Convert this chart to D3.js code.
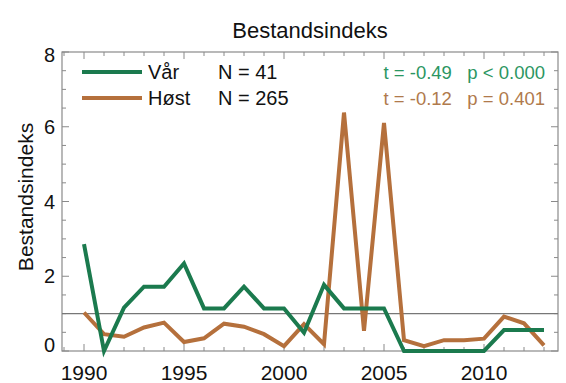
<!DOCTYPE html>
<html>
<head>
<meta charset="utf-8">
<script src="https://cdn.jsdelivr.net/npm/d3@7"></script>
<style>
  body { margin: 0; background: #fff; }
  text { font-family: "Liberation Sans", Arial, sans-serif; }
</style>
</head>
<body>
<svg width="566" height="383"></svg>
<script>
//  data
var years = d3.range(1990, 2014);
var varValues = [2.86, 0.0, 1.16, 1.72, 1.72, 2.34, 1.14, 1.14, 1.72, 1.14, 1.14, 0.49,
                 1.77, 1.14, 1.14, 1.14, 0.0, 0.0, 0.0, 0.0, 0.0, 0.56, 0.56, 0.56];
var hostValues = [1.03, 0.45, 0.38, 0.63, 0.76, 0.24, 0.34, 0.73, 0.65, 0.45, 0.13, 0.72,
                  0.18, 6.38, 0.54, 6.1, 0.29, 0.13, 0.29, 0.29, 0.33, 0.92, 0.74, 0.15];
var yTicks = [0, 2, 4, 6, 8];
var xTicks = [1990, 1995, 2000, 2005, 2010];
var seriesNames = ["Vår", "Høst"];
var seriesN = ["N = 41", "N = 265"];
var seriesStats = ["t = -0.49   p < 0.000", "t = -0.12   p = 0.401"];
var lineColors = ["#1b7a4e", "#b5703c"];
var statColors = ["#2b9662", "#b07a4c"];

//  svg & sizing
var svg = d3.select("svg");
var plotLeft = 62, plotRight = 558, plotTop = 52, plotBottom = 351;

var x = d3.scaleLinear().domain([1988.9, 2013.7]).range([plotLeft, plotRight]);
var y = d3.scaleLinear().domain([0, 8]).range([plotBottom, plotTop]);

var axisColor = "#8a8a8a";

//  frame
svg.append("rect")
  .attr("x", plotLeft).attr("y", plotTop)
  .attr("width", plotRight - plotLeft).attr("height", plotBottom - plotTop)
  .attr("fill", "none").attr("stroke", axisColor).attr("stroke-width", 1.2);

//  ticks (inward, on all sides)
var ticks = svg.append("g").attr("stroke", axisColor).attr("stroke-width", 1);
d3.range(1989, 2014).forEach(function(yr) {
  var len = (yr % 5 === 0) ? 7 : 4;
  ticks.append("line").attr("x1", x(yr)).attr("x2", x(yr)).attr("y1", plotBottom).attr("y2", plotBottom - len);
  ticks.append("line").attr("x1", x(yr)).attr("x2", x(yr)).attr("y1", plotTop).attr("y2", plotTop + len);
});
d3.range(0, 8.01, 0.5).forEach(function(v) {
  var len = (v % 2 === 0) ? 7 : 4;
  ticks.append("line").attr("x1", plotLeft).attr("x2", plotLeft + len).attr("y1", y(v)).attr("y2", y(v));
  ticks.append("line").attr("x1", plotRight).attr("x2", plotRight - len).attr("y1", y(v)).attr("y2", y(v));
});

//  tick labels
svg.append("g").selectAll("text").data(yTicks).enter().append("text")
  .attr("x", 55).attr("y", function(d) { return y(d) - (d === 0 ? 6 : 0) + (d === 8 ? 3 : 0); })
  .attr("dy", "0.36em")
  .attr("text-anchor", "end")
  .attr("font-size", 20)
  .attr("fill", "#111")
  .text(function(d) { return d; });

svg.append("g").selectAll("text").data(xTicks).enter().append("text")
  .attr("x", function(d) { return x(d); }).attr("y", 380)
  .attr("text-anchor", "middle")
  .attr("font-size", 21)
  .attr("fill", "#111")
  .text(function(d) { return d; });

//  titles
svg.append("text")
  .attr("x", 310).attr("y", 38)
  .attr("text-anchor", "middle")
  .attr("font-size", 22)
  .attr("fill", "#111")
  .text("Bestandsindeks");

svg.append("text")
  .attr("transform", "translate(33,197) rotate(-90)")
  .attr("text-anchor", "middle")
  .attr("font-size", 21)
  .attr("fill", "#111")
  .text("Bestandsindeks");

//  reference line at 1
svg.append("line")
  .attr("x1", plotLeft).attr("x2", plotRight)
  .attr("y1", y(1)).attr("y2", y(1))
  .attr("stroke", "#777").attr("stroke-width", 1.2);

//  series lines
var line = d3.line()
  .x(function(d) { return x(d[0]); })
  .y(function(d) { return y(d[1]); });

[[hostValues, lineColors[1]], [varValues, lineColors[0]]].forEach(function(s) {
  svg.append("path")
    .datum(years.map(function(yr, j) { return [yr, s[0][j]]; }))
    .attr("d", line)
    .attr("fill", "none")
    .attr("stroke", s[1])
    .attr("stroke-width", 4)
    .attr("stroke-linejoin", "miter");
});

//  legend
seriesNames.forEach(function(name, i) {
  var ly = 72 + i * 26;
  svg.append("line")
    .attr("x1", 82).attr("x2", 142).attr("y1", ly).attr("y2", ly)
    .attr("stroke", lineColors[i]).attr("stroke-width", 4);
  svg.append("text").attr("x", 148).attr("y", ly).attr("dy", "0.36em")
    .attr("font-size", 20).attr("fill", "#111").text(name);
  svg.append("text").attr("x", 218).attr("y", ly).attr("dy", "0.36em")
    .attr("font-size", 20).attr("fill", "#111").text(seriesN[i]);
  svg.append("text").attr("x", 545).attr("y", ly).attr("dy", "0.36em")
    .attr("text-anchor", "end")
    .attr("font-size", 18.5).attr("fill", statColors[i])
    .style("white-space", "pre")
    .text(seriesStats[i]);
});
</script>
</body>
</html>
